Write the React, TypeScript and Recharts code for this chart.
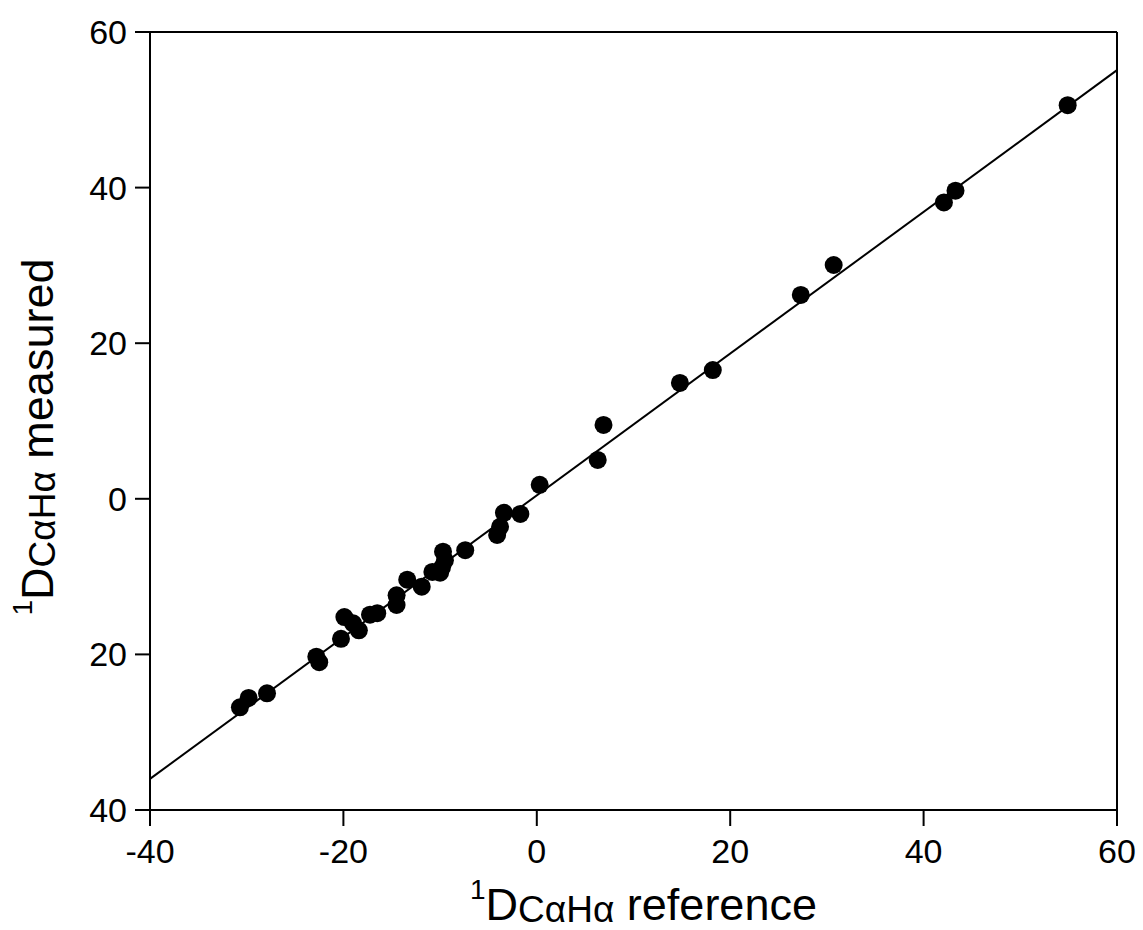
import React from "react";
import {
  ScatterChart,
  Scatter,
  XAxis,
  YAxis,
  ReferenceLine,
} from "recharts";

// 1D CαHα reference values (x)
const referenceValues = [
  -30.7, -29.8, -27.9, -22.8, -22.5, -20.25, -19.9, -19.0, -18.4, -17.25,
  -16.5, -14.5, -14.5, -13.4, -11.9, -10.8, -10.0, -9.8, -9.5, -9.7, -7.4,
  -4.1, -3.8, -3.4, -1.7, 0.3, 6.3, 6.9, 14.8, 18.2, 27.3, 30.7, 42.1, 43.3,
  54.9,
];

// 1D CαHα measured values (y)
const measuredValues = [
  -26.8, -25.6, -25.0, -20.3, -21.0, -18.0, -15.2, -16.0, -16.9, -14.9,
  -14.7, -12.4, -13.65, -10.4, -11.3, -9.4, -9.5, -8.8, -7.9, -6.8, -6.6,
  -4.65, -3.6, -1.8, -1.95, 1.8, 5.0, 9.5, 14.9, 16.55, 26.2, 30.05, 38.1,
  39.6, 50.6,
];

// fitted line end points
const fitX = [-40, 60];
const fitY = [-36.0, 55.1];

const xTicks = [-40, -20, 0, 20, 40, 60];
const yTicks = [-40, -20, 0, 20, 40, 60];

const points = referenceValues.map((x, i) => ({ x, y: measuredValues[i] }));

const FONT = "'Liberation Sans', Arial, Helvetica, sans-serif";

const Dot = (props: any) => (
  <circle cx={props.cx} cy={props.cy} r={9} fill="#000" />
);

const XTitle = (props: any) => {
  const vb = props.viewBox || {};
  const cx = vb.x + vb.width / 2 + 10;
  const y = 920;
  return (
    <text x={cx} y={y} textAnchor="middle" fontFamily={FONT} fontSize={45} fill="#000">
      <tspan fontSize={28} dy={-21}>1</tspan>
      <tspan fontSize={45} dy={21}>D</tspan>
      <tspan fontSize={37} dy={2}>CαHα</tspan>
      <tspan fontSize={45} dy={-2}>{"\u00A0reference"}</tspan>
    </text>
  );
};

const YTitle = (props: any) => {
  const x = 53;
  const y = 437;
  return (
    <text
      x={x}
      y={y}
      transform={`rotate(-90, ${x}, ${y})`}
      textAnchor="middle"
      fontFamily={FONT}
      fontSize={45}
      fill="#000"
    >
      <tspan fontSize={28} dy={-21}>1</tspan>
      <tspan fontSize={45} dy={21}>D</tspan>
      <tspan fontSize={37} dy={2}>CαHα</tspan>
      <tspan fontSize={45} dy={-2}>{"\u00A0measured"}</tspan>
    </text>
  );
};

export default function App() {
  return (
    <div style={{ position: "absolute", left: 0, top: 0, background: "#fff" }}>
      <ScatterChart
        width={1143}
        height={930}
        margin={{ top: 32, right: 26, bottom: 0, left: 0 }}
      >
        <XAxis
          type="number"
          dataKey="x"
          domain={[-40, 60]}
          ticks={xTicks}
          interval={0}
          height={120}
          tickSize={16}
          tickMargin={13}
          stroke="#000"
          strokeWidth={2}
          tick={{ fontSize: 34, fill: "#000", fontFamily: FONT }}
          tickLine={{ stroke: "#000", strokeWidth: 2 }}
          label={<XTitle />}
        />
        <YAxis
          type="number"
          dataKey="y"
          domain={[-40, 60]}
          ticks={yTicks}
          interval={0}
          width={150}
          tickSize={15}
          tickMargin={8}
          stroke="#000"
          strokeWidth={2}
          tick={{ fontSize: 34, fill: "#000", fontFamily: FONT }}
          tickLine={{ stroke: "#000", strokeWidth: 2 }}
          tickFormatter={(v: number) => String(Math.abs(v))}
          label={<YTitle />}
        />
        <ReferenceLine y={60} stroke="#000" strokeWidth={2} />
        <ReferenceLine x={60} stroke="#000" strokeWidth={2} />
        <ReferenceLine
          segment={[
            { x: fitX[0], y: fitY[0] },
            { x: fitX[1], y: fitY[1] },
          ]}
          stroke="#000"
          strokeWidth={2}
          ifOverflow="visible"
        />
        <Scatter
          data={points}
          fill="#000"
          shape={<Dot />}
          isAnimationActive={false}
        />
      </ScatterChart>
    </div>
  );
}
